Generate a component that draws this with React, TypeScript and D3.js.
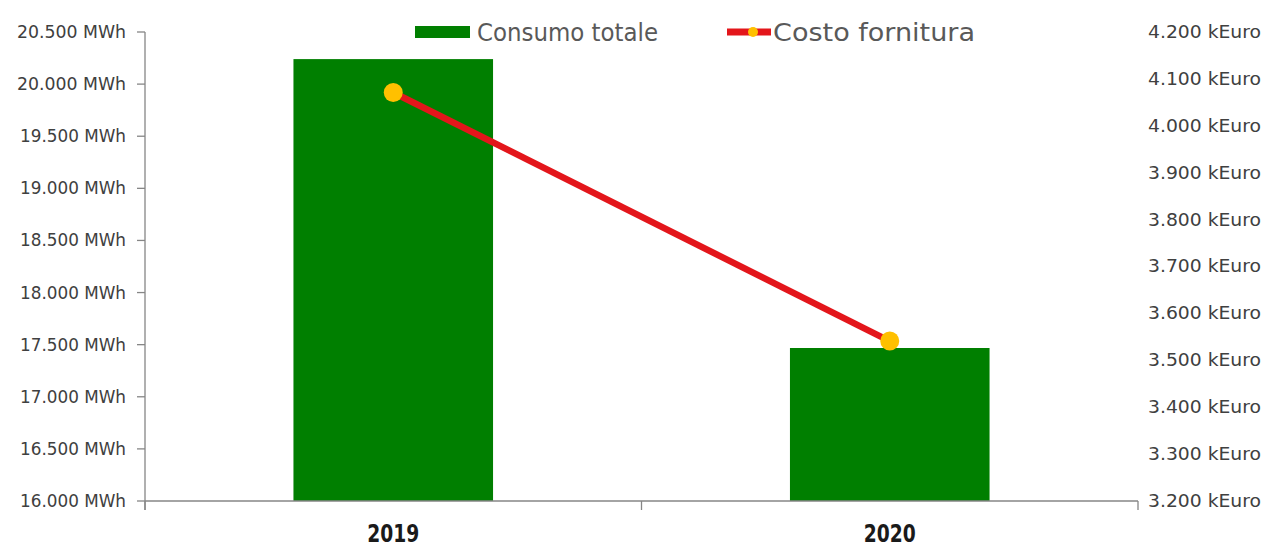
import React from "react";
import * as d3 from "d3";

const categories = ["2019", "2020"];
const consumo = [20240, 17468]; // MWh
const costo = [4071, 3541]; // kEuro
const leftTicks = [16000, 16500, 17000, 17500, 18000, 18500, 19000, 19500, 20000, 20500];
const rightTicks = [3200, 3300, 3400, 3500, 3600, 3700, 3800, 3900, 4000, 4100, 4200];

const W = 1271;
const H = 554;
const M = { left: 145, right: 1138, top: 32, bottom: 501 };
const FONT = "'DejaVu Sans Condensed', 'Roboto', sans-serif";

const fmt = (v: number) => d3.format(",")(v).replace(/,/g, ".");

export default function App() {
  const xOuter = d3.scaleBand<string>().domain(categories).range([M.left, M.right]);
  const yL = d3.scaleLinear().domain([16000, 20500]).range([M.bottom, M.top]);
  const yR = d3.scaleLinear().domain([3200, 4200]).range([M.bottom, M.top]);
  const cx = (c: string) => xOuter(c)! + xOuter.bandwidth() / 2;
  const line = d3
    .line<number>()
    .x((_, i) => cx(categories[i]))
    .y((d) => yR(d));

  const bw = xOuter.bandwidth() * 0.402;

  return (
    <svg width={W} height={H} style={{ position: "absolute", left: 0, top: 0, background: "#fff" }} fontFamily={FONT}>
      {/* bars */}
      {categories.map((c, i) => (
        <rect key={c} x={cx(c) - bw / 2} y={yL(consumo[i])} width={bw} height={M.bottom - yL(consumo[i])} fill="#007F00" />
      ))}
      {/* left axis */}
      <line x1={M.left} x2={M.left} y1={M.top} y2={M.bottom + 9} stroke="#868686" strokeWidth={1.3} />
      {leftTicks.map((t) => (
        <g key={t}>
          <line x1={M.left - 8} x2={M.left} y1={yL(t)} y2={yL(t)} stroke="#868686" strokeWidth={1.3} />
          <text x={126} y={yL(t)} dy="0.35em" textAnchor="end" fontSize={17} fill="#404040"
            textLength={String(t).startsWith("1") && String(t)[1] !== "0" ? 106 : 109} lengthAdjust="spacingAndGlyphs">
            {fmt(t)} MWh
          </text>
        </g>
      ))}
      {/* bottom axis */}
      <line x1={M.left} x2={M.right} y1={M.bottom} y2={M.bottom} stroke="#868686" strokeWidth={1.3} />
      {[M.left, ...categories.map((c) => xOuter(c)! + xOuter.bandwidth())].map((px, i) => (
        <line key={i} x1={px} x2={px} y1={M.bottom} y2={M.bottom + 9} stroke="#868686" strokeWidth={1.3} />
      ))}
      {categories.map((c) => (
        <text key={c} x={cx(c)} y={542} textAnchor="middle" fontSize={25} fontWeight="bold" fill="#1a1a1a"
          textLength={52} lengthAdjust="spacingAndGlyphs">
          {c}
        </text>
      ))}
      {/* right axis labels */}
      {rightTicks.map((t) => (
        <text key={t} x={1148} y={yR(t)} dy="0.35em" textAnchor="start" fontSize={17} fill="#404040"
          textLength={113} lengthAdjust="spacingAndGlyphs">
          {fmt(t)} kEuro
        </text>
      ))}
      {/* line */}
      <path d={line(costo)!} fill="none" stroke="#E3161B" strokeWidth={6.5} />
      {costo.map((v, i) => (
        <circle key={i} cx={cx(categories[i])} cy={yR(v)} r={9.5} fill="#FFC000" />
      ))}
      {/* legend */}
      <rect x={415} y={26} width={55} height={12} fill="#007F00" />
      <text x={477} y={32} dy="0.35em" fontSize={25} fill="#595959" textLength={181} lengthAdjust="spacingAndGlyphs">
        Consumo totale
      </text>
      <line x1={727} x2={771} y1={32} y2={32} stroke="#E3161B" strokeWidth={7} />
      <circle cx={753} cy={32} r={5} fill="#FFC000" />
      <text x={773} y={32} dy="0.35em" fontSize={25} fill="#595959" textLength={202} lengthAdjust="spacingAndGlyphs">
        Costo fornitura
      </text>
    </svg>
  );
}
